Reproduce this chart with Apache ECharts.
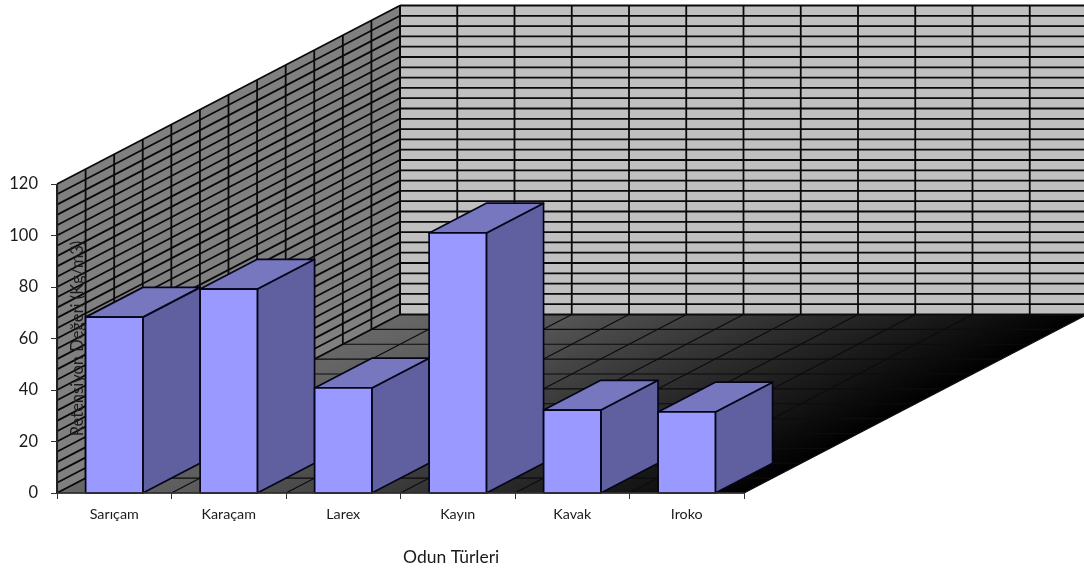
<!DOCTYPE html>
<html>
<head>
<meta charset="utf-8">
<script src="https://cdn.jsdelivr.net/npm/echarts@6/dist/echarts.min.js"></script>
<style>html,body{margin:0;padding:0;background:#fff}#chart{width:1084px;height:572px}</style>
</head>
<body>
<div id="chart"></div>
<script>
// Wood preservative retention per species
const categories = ['Sarıçam', 'Karaçam', 'Larex', 'Kayın', 'Kavak', 'Iroko'];
const retention = [68.3, 79.2, 40.8, 101, 32.2, 31.5];
const yTicks = { min: 0, max: 120, major: 20, minor: 4 };

// Oblique projection: screen offset from the front plane to the back wall
const DEPTH = [343, -178.5];
const DIVISIONS = 12;
const WALL_LINE = { stroke: '#0a0a0a', lineWidth: 1.8 };
const FLOOR_LINE = { stroke: '#0c0c0c', lineWidth: 1.2 };
const EDGE = { stroke: '#05051a', lineWidth: 1.7, lineJoin: 'round' };

function poly(points, style) {
  return { type: 'polygon', shape: { points }, style };
}
function segment(a, b, style) {
  return { type: 'line', shape: { x1: a[0], y1: a[1], x2: b[0], y2: b[1] }, style };
}
function shift(p, f) {
  return [p[0] + DEPTH[0] * f, p[1] + DEPTH[1] * f];
}

// Back wall, side wall and floor with their gridlines
function renderRoom(params, api) {
  const g = params.coordSys;
  const left = g.x, right = g.x + g.width;
  const y0 = api.coord([0, yTicks.min])[1];
  const yTop = api.coord([0, yTicks.max])[1];
  const fl = [left, y0], fr = [right, y0], tl = [left, yTop];
  const bl = shift(fl, 1), br = shift(fr, 1), tb = shift(tl, 1), tr = shift([right, yTop], 1);
  const floorFill = new echarts.graphic.LinearGradient(57, 493, 203, 774.5, [
    { offset: 0, color: '#676767' },
    { offset: 0.18, color: '#5c5c5c' },
    { offset: 0.36, color: '#474747' },
    { offset: 0.6, color: '#2c2c2c' },
    { offset: 0.82, color: '#151515' },
    { offset: 1, color: '#000000' }
  ], true);

  const children = [
    poly([tb, tr, br, bl], { fill: '#c0c0c0' }),
    poly([tl, tb, bl, fl], { fill: '#808080' }),
    poly([fl, bl, br, fr], { fill: floorFill })
  ];
  for (let v = yTicks.min; v <= yTicks.max; v += yTicks.minor) {
    const y = api.coord([0, v])[1];
    const a = [left, y];
    const b = shift(a, 1);
    children.push(segment(a, b, WALL_LINE));
    children.push(segment(b, [right + DEPTH[0], y + DEPTH[1]], WALL_LINE));
  }
  for (let k = 0; k <= DIVISIONS; k++) {
    const x = left + g.width * k / DIVISIONS;
    const f = k / DIVISIONS;
    children.push(segment([x, y0], shift([x, y0], 1), FLOOR_LINE));
    children.push(segment([x + DEPTH[0], yTop + DEPTH[1]], [x + DEPTH[0], y0 + DEPTH[1]], WALL_LINE));
    children.push(segment(shift(fl, f), shift(fr, f), FLOOR_LINE));
    children.push(segment(shift(fl, f), shift(tl, f), WALL_LINE));
  }
  return { type: 'group', children };
}

// One box per category: front face from the value axis, side and top in depth
function renderBox(params, api) {
  const top = api.coord([api.value(0), api.value(1)]);
  const base = api.coord([api.value(0), 0]);
  const half = api.size([1, 0])[0] / 4;
  const d = 1 / 6;
  const a = [top[0] - half, top[1]], b = [top[0] + half, top[1]];
  const c = [base[0] + half, base[1]], e = [base[0] - half, base[1]];
  return {
    type: 'group',
    children: [
      poly([b, shift(b, d), shift(c, d), c], Object.assign({ fill: '#6060a0' }, EDGE)),
      poly([a, shift(a, d), shift(b, d), b], Object.assign({ fill: '#7777c0' }, EDGE)),
      poly([a, b, c, e], Object.assign({ fill: '#9999ff' }, EDGE))
    ]
  };
}

const chart = echarts.init(document.getElementById('chart'), null, { renderer: 'canvas' });
chart.setOption({
  animation: false,
  backgroundColor: '#ffffff',
  textStyle: { fontFamily: 'Lato' },
  title: {
    text: 'Odun Türleri',
    left: 403,
    top: 548,
    textStyle: { fontFamily: 'Lato', fontSize: 17.5, fontWeight: 'normal', color: '#1a1a1a' },
    padding: 0
  },
  grid: { left: 57, top: 184, width: 687, height: 309, outerBoundsMode: 'none', containLabel: false },
  xAxis: {
    type: 'category',
    data: categories,
    z: 10,
    axisLine: { lineStyle: { color: '#333', width: 1.5 } },
    axisTick: { show: true, length: 6, alignWithLabel: false, lineStyle: { color: '#333', width: 1 } },
    axisLabel: { fontFamily: 'Lato', fontSize: 14.3, color: '#1a1a1a', margin: 14, interval: 0 },
    splitLine: { show: false }
  },
  yAxis: {
    type: 'value',
    min: yTicks.min,
    max: yTicks.max,
    interval: yTicks.major,
    z: 10,
    name: 'Retensiyon Değeri (Kg/m3)',
    nameLocation: 'middle',
    nameRotate: 90,
    nameGap: -29,
    nameMoveOverlap: false,
    nameTextStyle: { fontFamily: 'Lato', fontSize: 16.5, color: '#1c1c1c' },
    axisLine: { show: true, lineStyle: { color: '#222', width: 1.2 } },
    axisTick: { show: true, length: 6, lineStyle: { color: '#333', width: 1 } },
    axisLabel: { fontFamily: 'Lato', fontSize: 16.5, color: '#1a1a1a', margin: 19 },
    splitLine: { show: false }
  },
  series: [
    {
      type: 'custom',
      coordinateSystem: 'cartesian2d',
      silent: true,
      z: 1,
      clip: false,
      data: [[0, 0]],
      encode: { x: 0, y: 1 },
      renderItem: renderRoom
    },
    {
      type: 'custom',
      coordinateSystem: 'cartesian2d',
      z: 2,
      clip: false,
      data: retention.map((v, i) => [i, v]),
      encode: { x: 0, y: 1 },
      renderItem: renderBox
    }
  ]
});
</script>
</body>
</html>
